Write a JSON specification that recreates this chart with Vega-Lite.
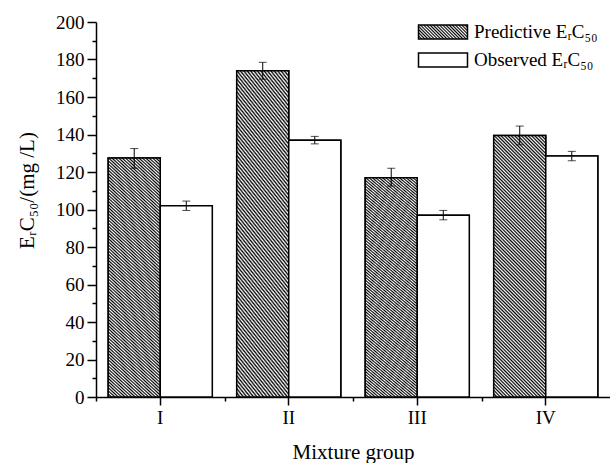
{
  "$schema": "https://vega.github.io/schema/vega-lite/v6.json",
  "autosize": {"type": "none"},
  "padding": {"left": 96, "top": 22, "right": 0, "bottom": 66},
  "width": 514,
  "height": 375,
  "background": "white",
  "config": {
    "view": {"stroke": null},
    "font": "Liberation Serif",
    "axis": {
      "grid": false,
      "domainColor": "black",
      "domainWidth": 1.5,
      "tickColor": "black",
      "tickWidth": 1.5,
      "labelColor": "black",
      "labelFont": "Liberation Serif",
      "labelFontSize": 19,
      "titleColor": "black",
      "titleFont": "Liberation Serif",
      "titleFontSize": 21,
      "titleFontWeight": "normal"
    },
    "legend": {
      "labelFont": "Liberation Serif",
      "labelFontSize": 19,
      "labelColor": "black"
    }
  },
  "data": {
    "values": [
      {"group": "I", "series": "Predictive", "value": 127.5, "lo": 122, "hi": 132.5},
      {"group": "I", "series": "Observed", "value": 102, "lo": 99.5, "hi": 104.5},
      {"group": "II", "series": "Predictive", "value": 174, "lo": 169.5, "hi": 178.5},
      {"group": "II", "series": "Observed", "value": 137, "lo": 135, "hi": 139},
      {"group": "III", "series": "Predictive", "value": 117, "lo": 112.5, "hi": 122},
      {"group": "III", "series": "Observed", "value": 97, "lo": 94.5, "hi": 99.5},
      {"group": "IV", "series": "Predictive", "value": 139.5, "lo": 134.5, "hi": 144.5},
      {"group": "IV", "series": "Observed", "value": 128.5, "lo": 126, "hi": 131}
    ]
  },
  "resolve": {"axis": {"x": "independent", "y": "independent"}},
  "layer": [
    {
      "mark": {"type": "bar", "stroke": "black", "strokeWidth": 1.5},
      "encoding": {
        "x": {
          "field": "group",
          "type": "nominal",
          "sort": ["I", "II", "III", "IV"],
          "scale": {"type": "band", "paddingInner": 0.19, "paddingOuter": 0.095},
          "axis": {"title": "Mixture group", "labelAngle": 0, "tickSize": 8, "labelPadding": 3, "titlePadding": 14}
        },
        "xOffset": {
          "field": "series",
          "type": "nominal",
          "sort": ["Predictive", "Observed"],
          "scale": {"type": "band", "paddingInner": 0, "paddingOuter": 0}
        },
        "y": {
          "field": "value",
          "type": "quantitative",
          "scale": {"domain": [0, 200], "nice": false},
          "axis": {
            "title": "EᵣC₅₀/(mg /L)",
            "values": [0, 20, 40, 60, 80, 100, 120, 140, 160, 180, 200],
            "tickSize": 9,
            "labelPadding": 3,
            "titlePadding": 18,
            "titleY": 168
          }
        },
        "fill": {
          "field": "series",
          "type": "nominal",
          "scale": {
            "domain": ["Predictive", "Observed"],
            "range": [
              {"expr": "{gradient:'linear',x1:0,y1:1,x2:1.2,y2:0.657,stops:[{offset:0,color:'#000'},{offset:0.025,color:'#fff'},{offset:0.05,color:'#000'},{offset:0.075,color:'#fff'},{offset:0.1,color:'#000'},{offset:0.125,color:'#fff'},{offset:0.15,color:'#000'},{offset:0.175,color:'#fff'},{offset:0.2,color:'#000'},{offset:0.225,color:'#fff'},{offset:0.25,color:'#000'},{offset:0.275,color:'#fff'},{offset:0.3,color:'#000'},{offset:0.325,color:'#fff'},{offset:0.35,color:'#000'},{offset:0.375,color:'#fff'},{offset:0.4,color:'#000'},{offset:0.425,color:'#fff'},{offset:0.45,color:'#000'},{offset:0.475,color:'#fff'},{offset:0.5,color:'#000'},{offset:0.525,color:'#fff'},{offset:0.55,color:'#000'},{offset:0.575,color:'#fff'},{offset:0.6,color:'#000'},{offset:0.625,color:'#fff'},{offset:0.65,color:'#000'},{offset:0.675,color:'#fff'},{offset:0.7,color:'#000'},{offset:0.725,color:'#fff'},{offset:0.75,color:'#000'},{offset:0.775,color:'#fff'},{offset:0.8,color:'#000'},{offset:0.825,color:'#fff'},{offset:0.85,color:'#000'},{offset:0.875,color:'#fff'},{offset:0.9,color:'#000'},{offset:0.925,color:'#fff'},{offset:0.95,color:'#000'},{offset:0.975,color:'#fff'},{offset:1,color:'#000'}]}"},
              "white"
            ]
          },
          "legend": {
            "orient": "none",
            "legendX": 337.5,
            "legendY": 0.5,
            "title": null,
            "padding": 0,
            "symbolType": "M-3.5,-1H3.5V1H-3.5Z",
            "symbolSize": 196,
            "symbolStrokeColor": "black",
            "symbolStrokeWidth": 1.5,
            "labelOffset": 21.5,
            "rowPadding": 7,
            "labelExpr": "datum.label + ' EᵣC₅₀'"
          }
        }
      }
    },
    {
      "mark": {"type": "bar", "stroke": "black", "strokeWidth": 1.5},
      "encoding": {
        "x": {
          "field": "group",
          "type": "nominal",
          "sort": ["I", "II", "III", "IV"],
          "scale": {"type": "band"},
          "axis": {"orient": "bottom", "tickOffset": -64.25, "labels": false, "domain": false, "tickSize": 4, "title": null}
        },
        "xOffset": {"field": "series", "type": "nominal", "sort": ["Predictive", "Observed"], "scale": {"type": "band"}},
        "y": {"field": "value", "type": "quantitative", "scale": {"domain": [0, 200], "nice": false}, "axis": null},
        "fill": {
          "condition": {
            "test": "datum.series === 'Predictive'",
            "value": {
              "gradient": "linear", "x1": 0, "y1": 1, "x2": 1, "y2": -4,
              "stops": [
                {"offset": 0, "color": "#000"}, {"offset": 0.00125, "color": "#fff"}, {"offset": 0.0025, "color": "#000"}, {"offset": 0.00375, "color": "#fff"}, {"offset": 0.005, "color": "#000"}, {"offset": 0.00625, "color": "#fff"}, {"offset": 0.0075, "color": "#000"}, {"offset": 0.00875, "color": "#fff"},
                {"offset": 0.01, "color": "#000"}, {"offset": 0.01125, "color": "#fff"}, {"offset": 0.0125, "color": "#000"}, {"offset": 0.01375, "color": "#fff"}, {"offset": 0.015, "color": "#000"}, {"offset": 0.01625, "color": "#fff"}, {"offset": 0.0175, "color": "#000"}, {"offset": 0.01875, "color": "#fff"},
                {"offset": 0.02, "color": "#000"}, {"offset": 0.02125, "color": "#fff"}, {"offset": 0.0225, "color": "#000"}, {"offset": 0.02375, "color": "#fff"}, {"offset": 0.025, "color": "#000"}, {"offset": 0.02625, "color": "#fff"}, {"offset": 0.0275, "color": "#000"}, {"offset": 0.02875, "color": "#fff"},
                {"offset": 0.03, "color": "#000"}, {"offset": 0.03125, "color": "#fff"}, {"offset": 0.0325, "color": "#000"}, {"offset": 0.03375, "color": "#fff"}, {"offset": 0.035, "color": "#000"}, {"offset": 0.03625, "color": "#fff"}, {"offset": 0.0375, "color": "#000"}, {"offset": 0.03875, "color": "#fff"},
                {"offset": 0.04, "color": "#000"}, {"offset": 0.04125, "color": "#fff"}, {"offset": 0.0425, "color": "#000"}, {"offset": 0.04375, "color": "#fff"}, {"offset": 0.045, "color": "#000"}, {"offset": 0.04625, "color": "#fff"}, {"offset": 0.0475, "color": "#000"}, {"offset": 0.04875, "color": "#fff"},
                {"offset": 0.05, "color": "#000"}, {"offset": 0.05125, "color": "#fff"}, {"offset": 0.0525, "color": "#000"}, {"offset": 0.05375, "color": "#fff"}, {"offset": 0.055, "color": "#000"}, {"offset": 0.05625, "color": "#fff"}, {"offset": 0.0575, "color": "#000"}, {"offset": 0.05875, "color": "#fff"},
                {"offset": 0.06, "color": "#000"}, {"offset": 0.06125, "color": "#fff"}, {"offset": 0.0625, "color": "#000"}, {"offset": 0.06375, "color": "#fff"}, {"offset": 0.065, "color": "#000"}, {"offset": 0.06625, "color": "#fff"}, {"offset": 0.0675, "color": "#000"}, {"offset": 0.06875, "color": "#fff"},
                {"offset": 0.07, "color": "#000"}, {"offset": 0.07125, "color": "#fff"}, {"offset": 0.0725, "color": "#000"}, {"offset": 0.07375, "color": "#fff"}, {"offset": 0.075, "color": "#000"}, {"offset": 0.07625, "color": "#fff"}, {"offset": 0.0775, "color": "#000"}, {"offset": 0.07875, "color": "#fff"},
                {"offset": 0.08, "color": "#000"}, {"offset": 0.08125, "color": "#fff"}, {"offset": 0.0825, "color": "#000"}, {"offset": 0.08375, "color": "#fff"}, {"offset": 0.085, "color": "#000"}, {"offset": 0.08625, "color": "#fff"}, {"offset": 0.0875, "color": "#000"}, {"offset": 0.08875, "color": "#fff"},
                {"offset": 0.09, "color": "#000"}, {"offset": 0.09125, "color": "#fff"}, {"offset": 0.0925, "color": "#000"}, {"offset": 0.09375, "color": "#fff"}, {"offset": 0.095, "color": "#000"}, {"offset": 0.09625, "color": "#fff"}, {"offset": 0.0975, "color": "#000"}, {"offset": 0.09875, "color": "#fff"},
                {"offset": 0.1, "color": "#000"}, {"offset": 0.10125, "color": "#fff"}, {"offset": 0.1025, "color": "#000"}, {"offset": 0.10375, "color": "#fff"}, {"offset": 0.105, "color": "#000"}, {"offset": 0.10625, "color": "#fff"}, {"offset": 0.1075, "color": "#000"}, {"offset": 0.10875, "color": "#fff"},
                {"offset": 0.11, "color": "#000"}, {"offset": 0.11125, "color": "#fff"}, {"offset": 0.1125, "color": "#000"}, {"offset": 0.11375, "color": "#fff"}, {"offset": 0.115, "color": "#000"}, {"offset": 0.11625, "color": "#fff"}, {"offset": 0.1175, "color": "#000"}, {"offset": 0.11875, "color": "#fff"},
                {"offset": 0.12, "color": "#000"}, {"offset": 0.12125, "color": "#fff"}, {"offset": 0.1225, "color": "#000"}, {"offset": 0.12375, "color": "#fff"}, {"offset": 0.125, "color": "#000"}, {"offset": 0.12625, "color": "#fff"}, {"offset": 0.1275, "color": "#000"}, {"offset": 0.12875, "color": "#fff"},
                {"offset": 0.13, "color": "#000"}, {"offset": 0.13125, "color": "#fff"}, {"offset": 0.1325, "color": "#000"}, {"offset": 0.13375, "color": "#fff"}, {"offset": 0.135, "color": "#000"}, {"offset": 0.13625, "color": "#fff"}, {"offset": 0.1375, "color": "#000"}, {"offset": 0.13875, "color": "#fff"},
                {"offset": 0.14, "color": "#000"}, {"offset": 0.14125, "color": "#fff"}, {"offset": 0.1425, "color": "#000"}, {"offset": 0.14375, "color": "#fff"}, {"offset": 0.145, "color": "#000"}, {"offset": 0.14625, "color": "#fff"}, {"offset": 0.1475, "color": "#000"}, {"offset": 0.14875, "color": "#fff"},
                {"offset": 0.15, "color": "#000"}, {"offset": 0.15125, "color": "#fff"}, {"offset": 0.1525, "color": "#000"}, {"offset": 0.15375, "color": "#fff"}, {"offset": 0.155, "color": "#000"}, {"offset": 0.15625, "color": "#fff"}, {"offset": 0.1575, "color": "#000"}, {"offset": 0.15875, "color": "#fff"},
                {"offset": 0.16, "color": "#000"}, {"offset": 0.16125, "color": "#fff"}, {"offset": 0.1625, "color": "#000"}, {"offset": 0.16375, "color": "#fff"}, {"offset": 0.165, "color": "#000"}, {"offset": 0.16625, "color": "#fff"}, {"offset": 0.1675, "color": "#000"}, {"offset": 0.16875, "color": "#fff"},
                {"offset": 0.17, "color": "#000"}, {"offset": 0.17125, "color": "#fff"}, {"offset": 0.1725, "color": "#000"}, {"offset": 0.17375, "color": "#fff"}, {"offset": 0.175, "color": "#000"}, {"offset": 0.17625, "color": "#fff"}, {"offset": 0.1775, "color": "#000"}, {"offset": 0.17875, "color": "#fff"},
                {"offset": 0.18, "color": "#000"}, {"offset": 0.18125, "color": "#fff"}, {"offset": 0.1825, "color": "#000"}, {"offset": 0.18375, "color": "#fff"}, {"offset": 0.185, "color": "#000"}, {"offset": 0.18625, "color": "#fff"}, {"offset": 0.1875, "color": "#000"}, {"offset": 0.18875, "color": "#fff"},
                {"offset": 0.19, "color": "#000"}, {"offset": 0.19125, "color": "#fff"}, {"offset": 0.1925, "color": "#000"}, {"offset": 0.19375, "color": "#fff"}, {"offset": 0.195, "color": "#000"}, {"offset": 0.19625, "color": "#fff"}, {"offset": 0.1975, "color": "#000"}, {"offset": 0.19875, "color": "#fff"},
                {"offset": 0.2, "color": "#000"}, {"offset": 0.20125, "color": "#fff"}, {"offset": 0.2025, "color": "#000"}, {"offset": 0.20375, "color": "#fff"}, {"offset": 0.205, "color": "#000"}, {"offset": 0.20625, "color": "#fff"}, {"offset": 0.2075, "color": "#000"}, {"offset": 0.20875, "color": "#fff"},
                {"offset": 0.21, "color": "#000"}, {"offset": 0.21125, "color": "#fff"}, {"offset": 0.2125, "color": "#000"}, {"offset": 0.21375, "color": "#fff"}, {"offset": 0.215, "color": "#000"}, {"offset": 0.21625, "color": "#fff"}, {"offset": 0.2175, "color": "#000"}, {"offset": 0.21875, "color": "#fff"},
                {"offset": 0.22, "color": "#000"}, {"offset": 0.22125, "color": "#fff"}, {"offset": 0.2225, "color": "#000"}, {"offset": 0.22375, "color": "#fff"}, {"offset": 0.225, "color": "#000"}, {"offset": 0.22625, "color": "#fff"}, {"offset": 0.2275, "color": "#000"}, {"offset": 0.22875, "color": "#fff"},
                {"offset": 0.23, "color": "#000"}, {"offset": 0.23125, "color": "#fff"}
              ]
            }
          },
          "value": "white"
        }
      }
    },
    {
      "mark": {"type": "rule", "color": "black", "strokeWidth": 1},
      "encoding": {
        "x": {"field": "group", "type": "nominal", "sort": ["I", "II", "III", "IV"], "scale": {"type": "band"}, "axis": null},
        "xOffset": {"field": "series", "type": "nominal", "sort": ["Predictive", "Observed"], "scale": {"type": "band"}},
        "y": {
          "field": "lo",
          "type": "quantitative",
          "scale": {"domain": [0, 200], "nice": false},
          "axis": {
            "orient": "left",
            "values": [10, 30, 50, 70, 90, 110, 130, 150, 170, 190],
            "labels": false,
            "domain": false,
            "tickSize": 4,
            "title": null
          }
        },
        "y2": {"field": "hi"}
      }
    },
    {
      "mark": {"type": "tick", "color": "black", "size": 8, "thickness": 1},
      "encoding": {
        "x": {"field": "group", "type": "nominal", "sort": ["I", "II", "III", "IV"], "scale": {"type": "band"}, "axis": null},
        "xOffset": {"field": "series", "type": "nominal", "sort": ["Predictive", "Observed"], "scale": {"type": "band"}},
        "y": {"field": "lo", "type": "quantitative", "scale": {"domain": [0, 200], "nice": false}, "axis": null}
      }
    },
    {
      "mark": {"type": "tick", "color": "black", "size": 8, "thickness": 1},
      "encoding": {
        "x": {"field": "group", "type": "nominal", "sort": ["I", "II", "III", "IV"], "scale": {"type": "band"}, "axis": null},
        "xOffset": {"field": "series", "type": "nominal", "sort": ["Predictive", "Observed"], "scale": {"type": "band"}},
        "y": {"field": "hi", "type": "quantitative", "scale": {"domain": [0, 200], "nice": false}, "axis": null}
      }
    }
  ]
}
